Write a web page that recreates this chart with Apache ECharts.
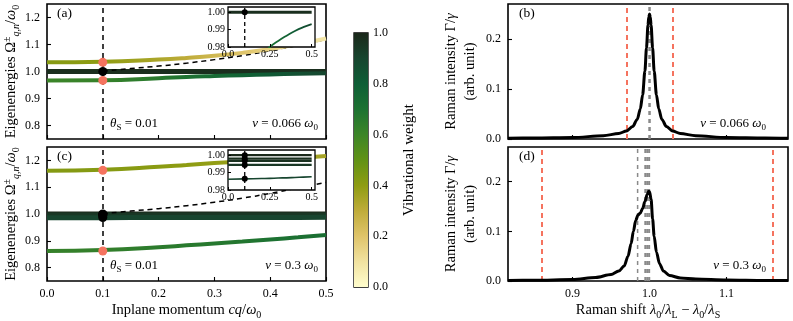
<!DOCTYPE html>
<html>
<head>
<meta charset="utf-8">
<script src="https://cdn.jsdelivr.net/npm/echarts@6/dist/echarts.min.js"></script>
<style>
  html, body { margin: 0; padding: 0; background: #fff; }
  #chart { width: 793px; height: 321px; }
</style>
</head>
<body>
<div id="chart"></div>
<script>
const F = 'Liberation Serif';

// momentum samples for the eigenenergy bands (cq/ω0)
const qBand = [0, 0.1, 0.2, 0.25, 0.3, 0.35, 0.4, 0.45, 0.5];

// panel (a), ν = 0.066 ω0
const upperA = [1.034, 1.036, 1.044, 1.050, 1.058, 1.069, 1.083, 1.101, 1.122];
const upperAw = [0.42, 0.40, 0.34, 0.30, 0.25, 0.20, 0.15, 0.11, 0.08];
const lowerA = [0.967, 0.968, 0.975, 0.980, 0.9835, 0.9865, 0.9892, 0.9914, 0.9932];
const lowerAw = [0.60, 0.62, 0.66, 0.70, 0.74, 0.78, 0.82, 0.86, 0.90];
const midA = [1.0, 1.0, 1.0, 1.0, 1.0, 1.0, 1.0, 1.0, 1.0];

// panel (c), ν = 0.3 ω0
const upperC = [1.161, 1.165, 1.176, 1.183, 1.190, 1.196, 1.202, 1.209, 1.216];
const upperCw = [0.42, 0.42, 0.41, 0.40, 0.39, 0.38, 0.37, 0.36, 0.35];
const lowerC = [0.862, 0.866, 0.876, 0.883, 0.890, 0.897, 0.905, 0.913, 0.922];
const lowerCw = [0.62, 0.63, 0.65, 0.66, 0.67, 0.68, 0.70, 0.71, 0.72];
const midCLevels = [1.0, 0.998, 0.9968, 0.9944];
const midCLevelsW = [1.0, 0.98, 0.97, 0.95];
const midCLow = [0.9862, 0.9864, 0.9866, 0.9867, 0.9869, 0.9870, 0.9872, 0.9874, 0.9876];

// dashed light line, starting at the selected momentum
const qLight = [0.1, 0.15, 0.2, 0.25, 0.3, 0.35, 0.4, 0.45, 0.5];
const eLight = [1.001, 1.011, 1.02, 1.031, 1.044, 1.059, 1.077, 1.097, 1.118];

// selected momentum and marked states
const qSel = 0.1;
const redA = [1.034, 0.967];
const blackA = [1.0];
const redC = [1.163, 0.862];
const blackC = [1.0, 0.998, 0.9968, 0.9944, 0.9865];

// Raman spectra
const shiftB = [0.816, 0.85, 0.9, 0.94, 0.96, 0.97, 0.978, 0.984, 0.988, 0.991, 0.994, 0.996, 0.998, 0.999, 1.0,
  1.001, 1.002, 1.004, 1.006, 1.009, 1.012, 1.016, 1.022, 1.03, 1.04, 1.06, 1.1, 1.15, 1.18];
const ramanB = [0.0015, 0.002, 0.003, 0.0065, 0.011, 0.016, 0.025, 0.039, 0.06, 0.088, 0.136, 0.182, 0.228, 0.244, 0.25,
  0.244, 0.228, 0.182, 0.136, 0.088, 0.06, 0.039, 0.025, 0.016, 0.011, 0.0065, 0.003, 0.002, 0.0015];
const shiftD = [0.816, 0.85, 0.9, 0.93, 0.95, 0.96, 0.967, 0.972, 0.976, 0.979, 0.982, 0.985, 0.988, 0.991, 0.994, 0.997, 0.999, 1.0,
  1.002, 1.004, 1.006, 1.009, 1.013, 1.018, 1.026, 1.04, 1.06, 1.1, 1.15, 1.18];
const ramanD = [0.001, 0.0015, 0.003, 0.007, 0.013, 0.02, 0.03, 0.05, 0.075, 0.1, 0.122, 0.133, 0.137, 0.146, 0.16, 0.175, 0.181, 0.18,
  0.165, 0.125, 0.09, 0.058, 0.035, 0.02, 0.011, 0.006, 0.004, 0.002, 0.001, 0.001];
const redB = [0.967, 1.034];
const grayB = [1.0];
const redD = [0.862, 1.163];
const grayDThin = [0.9845];
const grayDThick = [0.9945, 0.997, 0.9995];

// tick values
const yTicksE = [0.8, 0.9, 1.0, 1.1, 1.2];
const yTicksR = [0, 0.1, 0.2];
const xTicksR = [0.9, 1.0, 1.1];
const yTicksIn = [0.98, 0.99, 1.0];
const xTicksIn = [0, 0.25, 0.5];

// colormap of the vibrational weight
const cmapStops = [
  [0.0, '#fffdcd'], [0.1, '#f1e2a0'], [0.2, '#dfc46a'], [0.3, '#bfac3a'],
  [0.4, '#8e9c12'], [0.5, '#619216'], [0.6, '#3c8528'], [0.7, '#1d7232'],
  [0.8, '#0e5e36'], [0.9, '#17452f'], [1.0, '#1b281a']
];

function hexToRgb(h) {
  return [parseInt(h.slice(1, 3), 16), parseInt(h.slice(3, 5), 16), parseInt(h.slice(5, 7), 16)];
}
function cmap(w) {
  for (let i = 1; i < cmapStops.length; i++) {
    if (w <= cmapStops[i][0]) {
      const [w0, c0] = cmapStops[i - 1];
      const [w1, c1] = cmapStops[i];
      const t = (w - w0) / (w1 - w0);
      const a = hexToRgb(c0), b = hexToRgb(c1);
      return 'rgb(' + a.map((v, k) => Math.round(v + (b[k] - v) * t)).join(',') + ')';
    }
  }
  return cmapStops[cmapStops.length - 1][1];
}
function bandGradient(qs, ws) {
  const q0 = qs[0], q1 = qs[qs.length - 1];
  return new echarts.graphic.LinearGradient(0, 0, 1, 0,
    qs.map((q, i) => ({ offset: (q - q0) / (q1 - q0), color: cmap(ws[i]) })));
}

const NS = 14.5; // axis name size
const rich = {
  r: { fontFamily: F, fontSize: 13, lineHeight: 18, color: '#000' },
  i: { fontFamily: F, fontSize: 13, lineHeight: 18, fontStyle: 'italic', color: '#000' },
  sup: { fontFamily: F, fontSize: 9, verticalAlign: 'top', color: '#000' },
  sub: { fontFamily: F, fontSize: 9, verticalAlign: 'bottom', color: '#000' },
  isub: { fontFamily: F, fontSize: 9, verticalAlign: 'bottom', fontStyle: 'italic', color: '#000' }
};
const richName = {
  r: { fontFamily: F, fontSize: NS, lineHeight: 19, color: '#000' },
  i: { fontFamily: F, fontSize: NS, lineHeight: 19, fontStyle: 'italic', color: '#000' },
  sup: { fontFamily: F, fontSize: 10, verticalAlign: 'top', color: '#000' },
  sub: { fontFamily: F, fontSize: 10, verticalAlign: 'bottom', color: '#000' },
  isub: { fontFamily: F, fontSize: 10, verticalAlign: 'bottom', fontStyle: 'italic', color: '#000' }
};
const tickLabel = { color: '#000', fontFamily: F, fontSize: 12 };
const inTick = { inside: true, length: 4, lineStyle: { color: '#000', width: 1.1 } };
const RED = '#f5735f';
const GRAY = '#8a8a8a';

function line(idx, xs, ys, style, z, extra) {
  return Object.assign({
    type: 'line', xAxisIndex: idx, yAxisIndex: idx,
    data: xs.map((x, i) => [x, ys[i]]),
    showSymbol: false, smooth: true, silent: true, z,
    lineStyle: style
  }, extra || {});
}
function band(idx, ys, ws, width, z) {
  return line(idx, qBand, ys, { width, color: bandGradient(qBand, ws) }, z);
}
function flat(idx, level, w, width, z) {
  return line(idx, [0, 0.5], [level, level], { width, color: cmap(w) }, z, { smooth: false });
}
function dots(idx, ys, color, size, z) {
  return {
    type: 'scatter', xAxisIndex: idx, yAxisIndex: idx, silent: true, z,
    data: ys.map(y => [qSel, y]), symbolSize: size,
    itemStyle: { color, opacity: 1 }
  };
}
function vlines(values, color, width, dash) {
  return {
    symbol: 'none', silent: true, label: { show: false },
    lineStyle: { color, width, type: dash },
    data: values.map(v => ({ xAxis: v }))
  };
}

const mainGrid = { show: true, borderColor: '#000', borderWidth: 1.6, backgroundColor: 'transparent' };
const insetGrid = { show: true, borderColor: '#000', borderWidth: 1.3, backgroundColor: '#fff', z: 10 };

const option = {
  animation: false,
  backgroundColor: '#fff',
  grid: [
    Object.assign({ left: 47, top: 4, width: 279, height: 135 }, mainGrid),
    Object.assign({ left: 47, top: 147, width: 279, height: 135 }, mainGrid),
    Object.assign({ left: 508, top: 4, width: 280, height: 135 }, mainGrid),
    Object.assign({ left: 508, top: 147, width: 280, height: 135 }, mainGrid),
    Object.assign({ left: 228, top: 7, width: 87, height: 40 }, insetGrid),
    Object.assign({ left: 228, top: 150, width: 87, height: 40 }, insetGrid),
    { left: 354, top: 33, width: 14, height: 254, show: true, borderColor: '#000', borderWidth: 1.3 }
  ],
  xAxis: [
    { gridIndex: 0, type: 'value', min: 0, max: 0.5, interval: 0.1, axisLine: { show: false },
      axisTick: inTick, axisLabel: { show: false }, splitLine: { show: false } },
    { gridIndex: 1, type: 'value', min: 0, max: 0.5, interval: 0.1, axisLine: { show: false },
      axisTick: inTick, splitLine: { show: false },
      axisLabel: Object.assign({ margin: 7, formatter: v => v.toFixed(1) }, tickLabel),
      name: '{r|Inplane momentum }{i|cq}{r|/}{i|ω}{sub|0}', nameLocation: 'middle', nameGap: 20,
      nameTextStyle: { rich: richName } },
    { gridIndex: 2, type: 'value', min: 0.816, max: 1.18, axisLine: { show: false },
      axisTick: Object.assign({ customValues: xTicksR }, inTick), axisLabel: { show: false },
      splitLine: { show: false } },
    { gridIndex: 3, type: 'value', min: 0.816, max: 1.18, axisLine: { show: false },
      axisTick: Object.assign({ customValues: xTicksR }, inTick), splitLine: { show: false },
      axisLabel: Object.assign({ customValues: xTicksR, margin: 7, formatter: v => v.toFixed(1) }, tickLabel),
      name: '{r|Raman shift }{i|λ}{sub|0}{r|/}{i|λ}{sub|L}{r| − }{i|λ}{sub|0}{r|/}{i|λ}{sub|S}',
      nameLocation: 'middle', nameGap: 20, nameTextStyle: { rich: richName } },
    { gridIndex: 4, type: 'value', min: 0, max: 0.52, z: 12, axisLine: { show: false },
      axisTick: { customValues: xTicksIn, inside: true, length: 3, lineStyle: { color: '#000' } },
      splitLine: { show: false },
      axisLabel: { customValues: xTicksIn, margin: 2, color: '#000', fontFamily: F, fontSize: 10,
        formatter: v => (v === 0 ? '0.0' : String(v)) } },
    { gridIndex: 5, type: 'value', min: 0, max: 0.52, z: 12, axisLine: { show: false },
      axisTick: { customValues: xTicksIn, inside: true, length: 3, lineStyle: { color: '#000' } },
      splitLine: { show: false },
      axisLabel: { customValues: xTicksIn, margin: 2, color: '#000', fontFamily: F, fontSize: 10,
        formatter: v => (v === 0 ? '0.0' : String(v)) } },
    { gridIndex: 6, type: 'category', data: ['w'], show: false }
  ],
  yAxis: [
    { gridIndex: 0, type: 'value', min: 0.75, max: 1.25, axisLine: { show: false },
      axisTick: Object.assign({ customValues: yTicksE }, inTick), splitLine: { show: false },
      axisLabel: Object.assign({ customValues: yTicksE, margin: 7, formatter: v => v.toFixed(1) }, tickLabel),
      name: '{r|Eigenenergies Ω}{sup|±}{isub|q,n}{r|/}{i|ω}{sub|0}', nameLocation: 'middle', nameGap: 26,
      nameTextStyle: { rich: richName } },
    { gridIndex: 1, type: 'value', min: 0.75, max: 1.25, axisLine: { show: false },
      axisTick: Object.assign({ customValues: yTicksE }, inTick), splitLine: { show: false },
      axisLabel: Object.assign({ customValues: yTicksE, margin: 7, formatter: v => v.toFixed(1) }, tickLabel),
      name: '{r|Eigenenergies Ω}{sup|±}{isub|q,n}{r|/}{i|ω}{sub|0}', nameLocation: 'middle', nameGap: 26,
      nameTextStyle: { rich: richName } },
    { gridIndex: 2, type: 'value', min: 0, max: 0.27, axisLine: { show: false },
      axisTick: Object.assign({ customValues: yTicksR }, inTick), splitLine: { show: false },
      axisLabel: Object.assign({ customValues: yTicksR, margin: 7, formatter: v => v.toFixed(1) }, tickLabel),
      name: '{r|Raman intensity Γ/}{i|γ}\n{r|(arb. unit)}', nameLocation: 'middle', nameGap: 28,
      nameTextStyle: { rich: richName } },
    { gridIndex: 3, type: 'value', min: 0, max: 0.27, axisLine: { show: false },
      axisTick: Object.assign({ customValues: yTicksR }, inTick), splitLine: { show: false },
      axisLabel: Object.assign({ customValues: yTicksR, margin: 7, formatter: v => v.toFixed(1) }, tickLabel),
      name: '{r|Raman intensity Γ/}{i|γ}\n{r|(arb. unit)}', nameLocation: 'middle', nameGap: 28,
      nameTextStyle: { rich: richName } },
    { gridIndex: 4, type: 'value', min: 0.98, max: 1.003, z: 12, axisLine: { show: false },
      axisTick: { customValues: yTicksIn, inside: true, length: 3, lineStyle: { color: '#000' } },
      splitLine: { show: false },
      axisLabel: { customValues: yTicksIn, margin: 3, color: '#000', fontFamily: F, fontSize: 10,
        formatter: v => v.toFixed(2) } },
    { gridIndex: 5, type: 'value', min: 0.98, max: 1.003, z: 12, axisLine: { show: false },
      axisTick: { customValues: yTicksIn, inside: true, length: 3, lineStyle: { color: '#000' } },
      splitLine: { show: false },
      axisLabel: { customValues: yTicksIn, margin: 3, color: '#000', fontFamily: F, fontSize: 10,
        formatter: v => v.toFixed(2) } },
    { gridIndex: 6, type: 'value', position: 'right', min: 0, max: 1, interval: 0.2,
      axisLine: { show: false }, splitLine: { show: false },
      axisTick: { inside: false, length: 4, lineStyle: { color: '#000', width: 1.1 } },
      axisLabel: Object.assign({ margin: 5, formatter: v => v.toFixed(1) }, tickLabel),
      name: 'Vibrational weight', nameLocation: 'middle', nameGap: 34, nameRotate: 90,
      nameTextStyle: { color: '#000', fontFamily: F, fontSize: 15 } }
  ],
  series: [
    // (a)
    flat(0, midA[0], 0.98, 5, 3),
    band(0, lowerA, lowerAw, 4, 3),
    line(0, qLight, eLight, { color: '#000', width: 1.5, type: [5, 4] }, 4,
      { markLine: vlines([qSel], '#000', 1.5, [5, 4]) }),
    band(0, upperA, upperAw, 4, 5),
    dots(0, redA, RED, 9, 6),
    dots(0, blackA, '#000', 9, 6),
    // inset (a)
    flat(4, midA[0], 0.98, 3, 11),
    band(4, lowerA, lowerAw, 1.8, 11),
    line(4, [qSel, qSel], [0.98, 1.003], { color: '#000', width: 1.3, type: [4, 3] }, 11, { smooth: false }),
    dots(4, blackA, '#000', 6, 13),
    // (c)
    ...midCLevels.map((lv, k) => flat(1, lv, midCLevelsW[k], 5, 3)),
    line(1, qBand, midCLow, { width: 5, color: cmap(0.9) }, 3),
    band(1, lowerC, lowerCw, 4, 3),
    line(1, qLight, eLight, { color: '#000', width: 1.5, type: [5, 4] }, 4,
      { markLine: vlines([qSel], '#000', 1.5, [5, 4]) }),
    band(1, upperC, upperCw, 4, 5),
    dots(1, redC, RED, 9, 6),
    dots(1, blackC, '#000', 9, 6),
    // inset (c)
    ...midCLevels.map((lv, k) => flat(5, lv, midCLevelsW[k], 2.2, 11)),
    line(5, qBand, midCLow, { width: 1.6, color: cmap(0.9) }, 11),
    line(5, [qSel, qSel], [0.98, 1.003], { color: '#000', width: 1.3, type: [4, 3] }, 11, { smooth: false }),
    dots(5, blackC, '#000', 6, 13),
    // (b)
    line(2, shiftB, ramanB, { color: '#000', width: 3 }, 5, {
      smooth: 0.3, smoothMonotone: 'x',
      markLine: vlines(redB, RED, 2, [5, 4])
    }),
    line(2, [grayB[0], grayB[0]], [0, 0.27], { color: GRAY, width: 2.5, type: [4, 4] }, 4, { smooth: false }),
    // (d)
    line(3, shiftD, ramanD, { color: '#000', width: 3 }, 5, {
      smooth: 0.3, smoothMonotone: 'x',
      markLine: vlines(redD, RED, 2, [5, 4])
    }),
    line(3, [grayDThin[0], grayDThin[0]], [0, 0.27], { color: GRAY, width: 1.5, type: [4, 4] }, 4, { smooth: false }),
    ...grayDThick.map(v => line(3, [v, v], [0, 0.27], { color: GRAY, width: 2, type: [4, 4] }, 4, { smooth: false })),
    // colorbar
    {
      type: 'bar', xAxisIndex: 6, yAxisIndex: 6, data: [1], barWidth: '100%', silent: true,
      itemStyle: {
        color: new echarts.graphic.LinearGradient(0, 0, 0, 1,
          cmapStops.slice().reverse().map(([w, c]) => ({ offset: 1 - w, color: c })))
      }
    }
  ],
  graphic: [
    { type: 'text', left: 57, top: 6, style: { text: '(a)', font: '13.5px "Liberation Serif"', fill: '#000' } },
    { type: 'text', left: 57, top: 149, style: { text: '(c)', font: '13.5px "Liberation Serif"', fill: '#000' } },
    { type: 'text', left: 519, top: 6, style: { text: '(b)', font: '13.5px "Liberation Serif"', fill: '#000' } },
    { type: 'text', left: 519, top: 149, style: { text: '(d)', font: '13.5px "Liberation Serif"', fill: '#000' } },
    { type: 'text', left: 110, top: 117, style: { text: '{i|θ}{sub|S}{r| = 0.01}', rich } },
    { type: 'text', left: 110, top: 259, style: { text: '{i|θ}{sub|S}{r| = 0.01}', rich } },
    { type: 'text', right: 475, top: 117, style: { text: '{i|ν}{r| = 0.066 }{i|ω}{sub|0}', rich } },
    { type: 'text', right: 475, top: 259, style: { text: '{i|ν}{r| = 0.3 }{i|ω}{sub|0}', rich } },
    { type: 'text', right: 27, top: 117, style: { text: '{i|ν}{r| = 0.066 }{i|ω}{sub|0}', rich } },
    { type: 'text', right: 27, top: 259, style: { text: '{i|ν}{r| = 0.3 }{i|ω}{sub|0}', rich } }
  ]
};

const chart = echarts.init(document.getElementById('chart'), null, { renderer: 'canvas' });
chart.setOption(option);
</script>
</body>
</html>
